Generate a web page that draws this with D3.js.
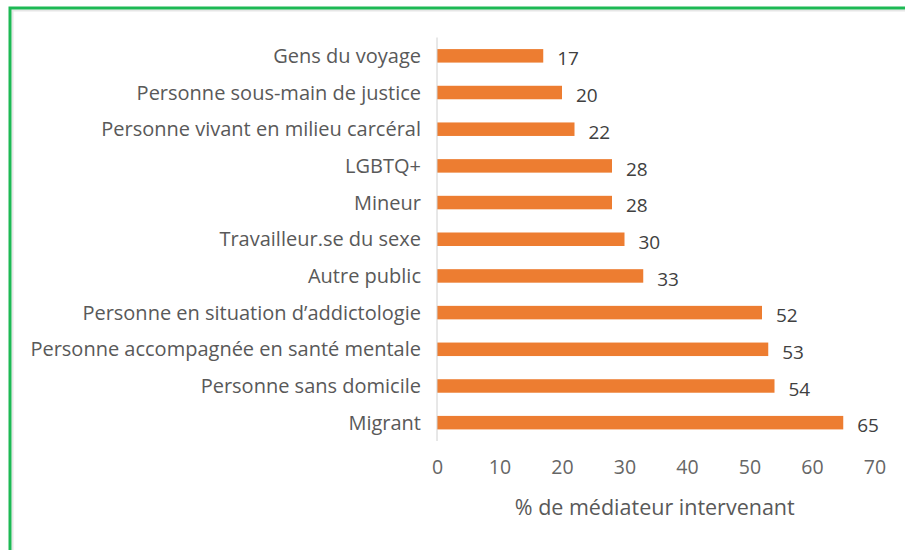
<!DOCTYPE html>
<html><head><meta charset="utf-8">
<script src="https://cdn.jsdelivr.net/npm/d3@7"></script>
<style>body{margin:0;background:#fff}</style>
</head><body>
<svg id="c" width="905" height="550"></svg>
<script>
const categories = ["Gens du voyage","Personne sous-main de justice","Personne vivant en milieu carcéral","LGBTQ+","Mineur","Travailleur.se du sexe","Autre public","Personne en situation d’addictologie","Personne accompagnée en santé mentale","Personne sans domicile","Migrant"];
const values = [17,20,22,28,28,30,33,52,53,54,65];
const ticks = [0,10,20,30,40,50,60,70];
const axisTitle = "% de médiateur intervenant";

const svg = d3.select("#c");
const font = "'Open Sans', sans-serif";
// frame
svg.append("path").attr("d","M12.5,560 L12.5,10.5 L905,10.5").attr("fill","none").attr("stroke","#e6e6e6").attr("stroke-width",2);
svg.append("path").attr("d","M10,560 L10,8 L905,8").attr("fill","none").attr("stroke","#1db954").attr("stroke-width",3);

const x = d3.scaleLinear().domain([0,70]).range([437,874.5]);
const y = d3.scaleBand().domain(categories).range([37.5,441]).paddingInner(0.64).paddingOuter(0.32);

svg.append("g").selectAll("rect").data(values).join("rect")
  .attr("x",x(0)).attr("y",(d,i)=>y(categories[i])+y.bandwidth()/2-6.75)
  .attr("width",d=>x(d)-x(0)).attr("height",13.5).attr("fill","#ED7D31");

svg.append("line").attr("x1",x(0)).attr("x2",x(0)).attr("y1",37.5).attr("y2",441).attr("stroke","#d0d0d0").attr("stroke-width",1);

svg.append("g").selectAll("text").data(categories).join("text")
  .attr("x",421).attr("y",d=>y(d)+y.bandwidth()/2).attr("dy","0.35em")
  .attr("text-anchor","end").attr("font-family",font).attr("font-size",20).attr("fill","#595959").text(d=>d);

svg.append("g").selectAll("text").data(values).join("text")
  .attr("x",d=>x(d)+14).attr("y",(d,i)=>y(categories[i])+y.bandwidth()/2+3).attr("dy","0.35em")
  .attr("font-family",font).attr("font-size",19).attr("fill","#404040").text(d=>d);

const ax = d3.axisBottom(x).tickValues(ticks).tickSize(0).tickPadding(0);
const g = svg.append("g").attr("transform","translate(0,467)").call(ax);
g.select(".domain").remove();
g.selectAll("text").attr("font-family",font).attr("font-size",19.5).attr("fill","#666666").attr("dy","0.35em");

svg.append("text").attr("x",(x(0)+x(70))/2-1).attr("y",507).attr("dy","0.35em").attr("text-anchor","middle")
  .attr("font-family",font).attr("font-size",21.5).attr("fill","#595959").text(axisTitle);
</script>
</body></html>
